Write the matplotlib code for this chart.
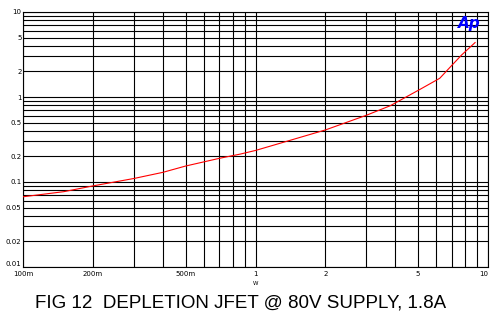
import matplotlib
matplotlib.use("Agg")
import matplotlib.pyplot as plt
from matplotlib.ticker import FixedLocator, NullFormatter, LogLocator

# current (A) vs output (W)
watts = [0.1, 0.15, 0.2, 0.3, 0.4, 0.5, 0.7, 0.86, 1.0, 1.3, 2.0, 3.0, 3.8,
         5.1, 6.2, 6.9, 7.7, 8.8]
level = [0.067, 0.077, 0.09, 0.11, 0.13, 0.154, 0.19, 0.213, 0.235, 0.29,
         0.41, 0.61, 0.79, 1.23, 1.66, 2.27, 3.12, 4.37]

x_ticks = [0.1, 0.2, 0.5, 1, 2, 5, 10]
x_labels = ["100m", "200m", "500m", "1", "2", "5", "10"]
y_ticks = [0.01, 0.02, 0.05, 0.1, 0.2, 0.5, 1, 2, 5, 10]
y_labels = ["0.01", "0.02", "0.05", "0.1", "0.2", "0.5", "1", "2", "5", "10"]

title = "FIG 12  DEPLETION JFET @ 80V SUPPLY, 1.8A"

fig = plt.figure(figsize=(4.99, 3.25), dpi=100)
ax = fig.add_axes([23 / 499, 1 - 267 / 325, 465 / 499, 255 / 325])

ax.plot(watts, level, color="red", linewidth=0.8, zorder=3)

ax.set_xscale("log")
ax.set_yscale("log")
ax.set_xlim(0.1, 10)
ax.set_ylim(0.01, 10)

ax.xaxis.set_major_locator(FixedLocator(x_ticks))
ax.set_xticklabels(x_labels)
ax.yaxis.set_major_locator(FixedLocator(y_ticks))
ax.set_yticklabels(y_labels)
ax.xaxis.set_minor_locator(LogLocator(base=10, subs=range(2, 10), numticks=20))
ax.yaxis.set_minor_locator(LogLocator(base=10, subs=range(2, 10), numticks=20))
ax.xaxis.set_minor_formatter(NullFormatter())
ax.yaxis.set_minor_formatter(NullFormatter())

ax.grid(True, which="both", color="black", linewidth=0.8)
ax.tick_params(which="both", length=0, labelsize=5, pad=1)
ax.tick_params(axis="x", pad=3)
for s in ax.spines.values():
    s.set_color("black")
    s.set_linewidth(0.8)

# last x label sits inside the frame, bottom y label above the line
ax.get_xticklabels()[-1].set_horizontalalignment("right")
ax.get_yticklabels()[0].set_verticalalignment("bottom")

ax.set_xlabel("W", fontsize=4, labelpad=3)

ax.text(0.985, 0.985, "Ap", transform=ax.transAxes, ha="right", va="top",
        color="#0000ff", fontsize=11, fontweight="bold", fontstyle="italic",
        zorder=4)

fig.text(241 / 499, 1 - 303 / 325, title, ha="center", va="center",
         fontsize=13.5, family="Liberation Sans")

fig.savefig("out.png", dpi=100)
